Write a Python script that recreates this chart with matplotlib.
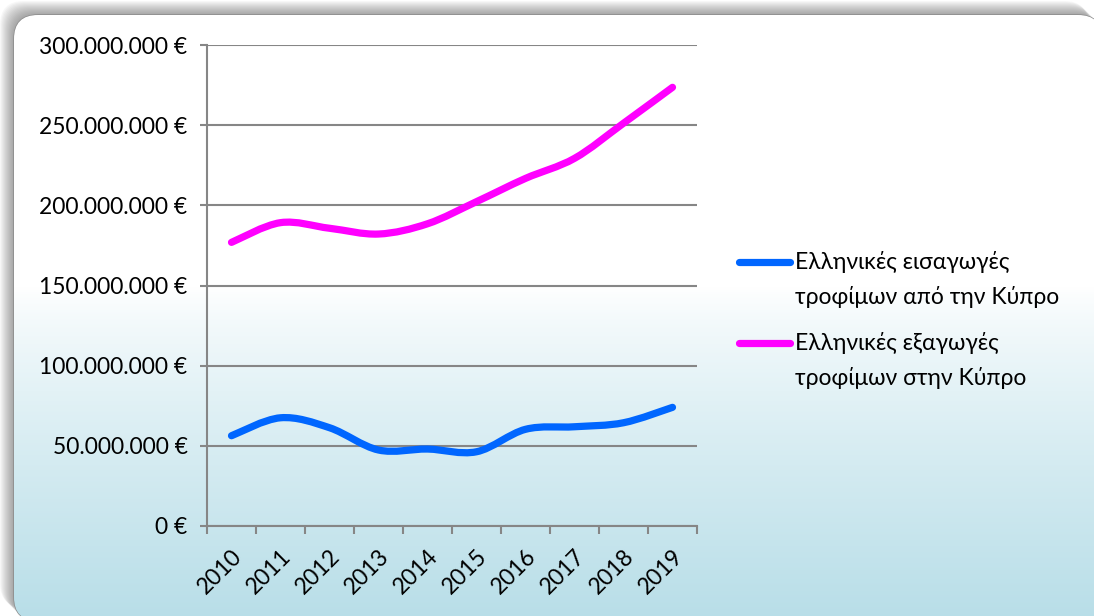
import numpy as np
import matplotlib.pyplot as plt
from matplotlib.path import Path
from matplotlib.patches import PathPatch, FancyBboxPatch
from matplotlib.lines import Line2D
from matplotlib.ticker import FuncFormatter, MultipleLocator

# ==========================================================
# DATA
# ==========================================================

years = ["2010", "2011", "2012", "2013", "2014", "2015", "2016", "2017", "2018", "2019"]

imports_cy = [56.3e6, 67.5e6, 61.3e6, 47.4e6, 48.0e6, 46.3e6, 60.3e6, 61.9e6, 64.4e6, 74.0e6]
exports_cy = [176.9e6, 189.2e6, 185.7e6, 182.1e6, 188.5e6, 202.3e6, 216.8e6, 229.3e6, 251.2e6, 273.6e6]

label_imp = "Ελληνικές εισαγωγές\nτροφίμων από την Κύπρο"
label_exp = "Ελληνικές εξαγωγές\nτροφίμων στην Κύπρο"

col_imp = "#0066ff"
col_exp = "#ff00ff"

plt.rcParams["font.family"] = ["Lato", "DejaVu Sans"]
FS = 16.5


def smooth_path(xs, ys):
    # excel-like smoothed line: cubic bezier through every point
    pts = np.column_stack([xs, ys]).astype(float)
    n = len(pts)
    verts = [pts[0]]
    codes = [Path.MOVETO]
    for i in range(n - 1):
        p0 = pts[i - 1] if i > 0 else pts[i]
        p1 = pts[i]
        p2 = pts[i + 1]
        p3 = pts[i + 2] if i + 2 < n else pts[i + 1]
        c1 = p1 + (p2 - p0) / 6.0
        c2 = p2 - (p3 - p1) / 6.0
        verts += [c1, c2, p2]
        codes += [Path.CURVE4] * 3
    return Path(verts, codes)


# ==========================================================
# FIGURE + BACKGROUND
# ==========================================================

W, H = 1094, 616
fig = plt.figure(figsize=(W / 100, H / 100), dpi=100)
fig.patch.set_facecolor("white")

bg = fig.add_axes([0, 0, 1, 1])
bg.set_xlim(0, W)
bg.set_ylim(H, 0)
bg.axis("off")

bx, by, bw, bh = 14, 15, 1088, 606

# soft shadow up/left of the box
for k in range(14, 0, -1):
    sh = FancyBboxPatch((bx - k, by - k), bw, bh,
                        boxstyle="round,pad=0,rounding_size=24",
                        facecolor=(0.3, 0.3, 0.3, 0.045), edgecolor="none", zorder=1)
    bg.add_patch(sh)

box = FancyBboxPatch((bx, by), bw, bh, boxstyle="round,pad=0,rounding_size=24",
                     facecolor="white", edgecolor="#8a8a8a", linewidth=1.0, zorder=2)
bg.add_patch(box)

top = np.array([1.0, 1.0, 1.0])
bot = np.array([184, 222, 232]) / 255
rows = np.linspace(0, 1, 300)
t = np.clip((rows - 0.45) / 0.55, 0, 1) ** 0.8
grad = top[None, :] * (1 - t[:, None]) + bot[None, :] * t[:, None]
img = np.repeat(grad[:, None, :], 2, axis=1)
im = bg.imshow(img, extent=[bx, bx + bw, by + bh, by], aspect="auto", zorder=2.5)
im.set_clip_path(box)

# ==========================================================
# CHART
# ==========================================================

ax = fig.add_axes([207 / W, 1 - 526 / H, 490 / W, 481 / H])
ax.patch.set_alpha(0)

x = np.arange(len(years))
for vals, col in [(imports_cy, col_imp), (exports_cy, col_exp)]:
    ax.add_patch(PathPatch(smooth_path(x, vals), facecolor="none", edgecolor=col,
                           linewidth=5.2, capstyle="round", joinstyle="round", zorder=3))

ax.set_xlim(-0.5, len(years) - 0.5)
ax.set_ylim(0, 300e6)
ax.yaxis.set_major_locator(MultipleLocator(50e6))
ax.yaxis.set_major_formatter(FuncFormatter(lambda v, p: "{:,.0f} €".format(v).replace(",", ".")))
ax.grid(axis="y", color="#868686", linewidth=1.5)
ax.set_axisbelow(True)

ax.set_xticks(x)
ax.set_xticklabels(years, rotation=45, ha="right", rotation_mode="anchor", fontsize=FS)
ax.set_xticks(np.arange(-0.5, len(years)), minor=True)
ax.tick_params(axis="x", which="major", length=0, pad=14)
ax.tick_params(axis="x", which="minor", length=6, width=1.5, color="#868686")
ax.tick_params(axis="y", length=5, width=1.5, color="#868686", labelsize=FS, pad=9)

for s in ["top", "right"]:
    ax.spines[s].set_visible(False)
for s in ["left", "bottom"]:
    ax.spines[s].set_color("#868686")
    ax.spines[s].set_linewidth(1.5)

# legend, drawn by hand so the key lines sit on the first text line
for lab, col, ytop in [(label_imp, col_imp, 262), (label_exp, col_exp, 343)]:
    fig.add_artist(Line2D([739 / W, 790 / W], [1 - ytop / H] * 2, color=col,
                          linewidth=5.2, solid_capstyle="round"))
    fig.text(795 / W, 1 - (ytop - 11) / H, lab, fontsize=FS, va="top", ha="left",
             linespacing=1.7)

fig.savefig("out.png", dpi=100)
